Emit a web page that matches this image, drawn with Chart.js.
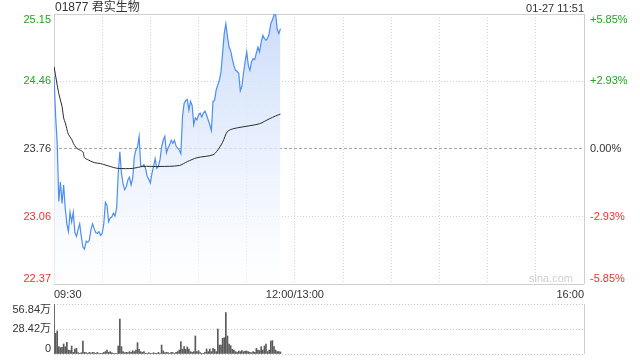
<!DOCTYPE html>
<html>
<head>
<meta charset="utf-8">
<script src="https://cdn.jsdelivr.net/npm/chart.js@4"></script>
<style>
  html, body { margin: 0; padding: 0; background: #fff; }
  #wrap { position: relative; width: 640px; height: 360px; overflow: hidden;
          font-family: Arial, "Liberation Sans", "Noto Sans CJK SC", sans-serif; color: #333; }
  #title { position: absolute; left: 55px; top: 0; font-size: 12px; line-height: 15px; }
  #stamp { position: absolute; right: 56px; top: 1px; font-size: 11px; line-height: 14px; }
  #priceChart { position: absolute; left: 0; top: 0; }
  #volChart { position: absolute; left: 0; top: 300px; }
</style>
</head>
<body>
<div id="wrap">
  <canvas id="priceChart" width="640" height="300"></canvas>
  <canvas id="volChart" width="640" height="60"></canvas>
  <div id="title">01877 君实生物</div>
  <div id="stamp">01-27 11:51</div>
</div>
<script>
const FONT = 'Arial, "Liberation Sans", "Noto Sans CJK SC", sans-serif';

// price per minute from 09:30 (index = minutes after open)
const prices = [
  24.51, 24.10, 23.82, 23.22, 23.42, 23.20, 23.39, 23.15, 22.99, 22.91,
  23.11, 23.01, 23.11, 22.90, 22.86, 22.93, 22.99, 22.86, 22.75, 22.73,
  22.81, 22.80, 22.82, 22.93, 22.99, 22.94, 22.90, 22.89, 22.91, 22.87,
  22.89, 22.99, 23.21, 23.18, 23.01, 23.05, 23.06, 23.10, 23.07, 23.15,
  23.51, 23.73, 23.51, 23.40, 23.34, 23.37, 23.44, 23.47, 23.39, 23.46,
  23.68, 23.75, 23.78, 23.89, 23.59, 23.58, 23.60, 23.56, 23.48, 23.45,
  23.41, 23.51, 23.58, 23.66, 23.56, 23.58, 23.65, 23.78, 23.85, 23.89,
  23.72, 23.77, 23.80, 23.85, 23.82, 23.85, 23.79, 23.77, 23.75, 23.71,
  24.09, 24.23, 24.26, 24.27, 24.16, 24.25, 24.21, 24.01, 24.08, 24.06,
  24.11, 24.13, 24.09, 24.13, 24.15, 24.11, 24.06, 24.01, 23.95, 24.25,
  24.26, 24.37, 24.42, 24.47, 24.56, 24.75, 24.95, 25.05, 24.92, 24.81,
  24.77, 24.69, 24.62, 24.57, 24.56, 24.54, 24.36, 24.41, 24.54, 24.66,
  24.76, 24.62, 24.57, 24.66, 24.69, 24.68, 24.75, 24.81, 24.76, 24.86,
  24.93, 24.90, 24.88, 24.90, 24.95, 25.05, 25.09, 25.14, 25.15, 24.99,
  24.95, 25.00
];

// average price line, read at these minutes
const avgMinutes = [0, 3, 5, 6, 7, 9, 11, 12, 14, 16, 18, 19, 21, 25, 29, 31, 35, 37, 40, 49,
  55, 66, 78, 83, 89, 99, 102, 105, 108, 112, 122, 128, 134, 138, 141];
const avgValues = [24.61, 24.33, 24.20, 24.08, 24.03, 23.91, 23.86, 23.82, 23.77, 23.75,
  23.73, 23.67, 23.65, 23.62, 23.61, 23.60, 23.58, 23.57, 23.56, 23.56,
  23.58, 23.58, 23.59, 23.63, 23.67, 23.70, 23.75, 23.83, 23.94, 23.97,
  24.00, 24.02, 24.07, 24.10, 24.12];

// volume per minute, 万
const volumes = [
  56.84, 23.5, 26.2, 8.3, 7.2, 7.6, 11.4, 8.3, 13.3, 4.5,
  3.8, 9.1, 1.9, 5.7, 6.4, 1.5, 0.8, 1.5, 14.8, 1.9,
  1.5, 0.8, 1.9, 1.1, 1.9, 1.5, 0.8, 1.9, 0.8, 0.4,
  0.8, 1.9, 2.7, 4.5, 1.9, 2.7, 1.5, 0.8, 0.4, 0.8,
  9.1, 39.8, 8.3, 2.7, 1.5, 1.9, 1.5, 2.7, 1.9, 3.8,
  2.7, 4.5, 12.9, 5.3, 2.7, 1.9, 2.7, 0.8, 0.8, 1.5,
  0.4, 0.8, 1.5, 0.8, 0.4, 1.9, 0.8, 10.2, 3.4, 1.5,
  1.9, 1.5, 0.8, 1.9, 1.5, 0.8, 1.9, 2.7, 4.5, 14.0,
  5.3, 8.3, 5.3, 8.0, 5.7, 2.7, 1.9, 2.7, 20.5, 2.7,
  3.8, 1.5, 0.8, 0.8, 1.9, 5.7, 2.7, 5.7, 2.7, 6.4,
  5.3, 2.7, 28.4, 10.2, 10.2, 17.8, 18.6, 47.0, 20.5, 11.4,
  9.5, 5.3, 4.5, 2.7, 1.9, 3.4, 2.7, 3.8, 2.7, 3.4,
  3.4, 2.7, 1.9, 1.5, 2.7, 1.9, 6.4, 4.5, 3.8, 8.3,
  4.5, 9.1, 11.4, 2.7, 4.5, 14.8, 15.2, 8.3, 4.5, 2.7,
  2.7, 2.3
];

// axes
const prevClose = 23.76;
const priceTicks = [25.15, 24.46, 23.76, 23.06, 22.37];
const pctTicks = ['+5.85%', '+2.93%', '0.00%', '-2.93%', '-5.85%'];
const volTicks = [56.84, 28.42, 0];
const volTickLabels = ['56.84万', '28.42万', '0'];
const gridMinutes = [0, 30, 60, 90, 120, 150, 180, 210, 240, 270, 300, 330];
const timeTickMinutes = [0, 150, 330];
const timeTickLabels = ['09:30', '12:00/13:00', '16:00'];

const GREEN = '#1fa51f', RED = '#f23030', DARK = '#333';
function tickColor(v) {
  if (v > prevClose + 0.001) return GREEN;
  if (v < prevClose - 0.001) return RED;
  return DARK;
}

// thin frame round the plot
const frame = {
  id: 'frame',
  beforeDatasetsDraw(chart, args, opts) {
    const { ctx, chartArea: a } = chart;
    ctx.save();
    ctx.strokeStyle = '#cfcfcf';
    ctx.lineWidth = 1;
    ctx.beginPath();
    (opts.sides || 'tlrb').split('').forEach(s => {
      if (s === 't') { ctx.moveTo(a.left, a.top + 0.5); ctx.lineTo(a.right, a.top + 0.5); }
      if (s === 'b') { ctx.moveTo(a.left, a.bottom + 0.5); ctx.lineTo(a.right, a.bottom + 0.5); }
      if (s === 'l') { ctx.moveTo(a.left + 0.5, a.top); ctx.lineTo(a.left + 0.5, a.bottom); }
      if (s === 'r') { ctx.moveTo(a.right + 0.5, a.top); ctx.lineTo(a.right + 0.5, a.bottom); }
    });
    ctx.stroke();
    ctx.restore();
  }
};

// y labels kept inside the plot height at the ends
const sideLabels = {
  id: 'sideLabels',
  afterDraw(chart, args, opts) {
    const { ctx, chartArea: a } = chart;
    const y = chart.scales.y;
    ctx.save();
    ctx.font = '11px ' + FONT;
    opts.items.forEach(it => {
      const py = y.getPixelForValue(it.value);
      ctx.textBaseline = py <= a.top + 1 ? 'top' : (py >= a.bottom - 1 ? 'bottom' : 'middle');
      ctx.fillStyle = it.color;
      if (it.side === 'left') {
        ctx.textAlign = 'right';
        ctx.fillText(it.text, a.left - 3, py);
      } else {
        ctx.textAlign = 'left';
        ctx.fillText(it.text, a.right + 6, py);
      }
    });
    if (opts.mark) {
      ctx.font = '11px ' + FONT;
      ctx.fillStyle = '#d0d0d0';
      ctx.textAlign = 'right';
      ctx.textBaseline = 'bottom';
      ctx.fillText(opts.mark, a.right - 11, a.bottom);
    }
    ctx.restore();
  }
};

const priceLabelItems = [];
priceTicks.forEach((v, i) => {
  priceLabelItems.push({ side: 'left', value: v, text: v.toFixed(2), color: tickColor(v) });
  priceLabelItems.push({ side: 'right', value: v, text: pctTicks[i], color: tickColor(v) });
});

new Chart(document.getElementById('priceChart'), {
  type: 'line',
  data: {
    datasets: [
      {
        label: '均价',
        data: avgMinutes.map((m, i) => ({ x: m, y: avgValues[i] })),
        borderColor: '#2b2b2b',
        borderWidth: 1,
        pointRadius: 0,
        tension: 0.3,
        fill: false
      },
      {
        label: '价格',
        data: prices.map((p, i) => ({ x: i, y: p })),
        borderColor: '#4d8ef0',
        borderWidth: 1.2,
        pointRadius: 0,
        tension: 0,
        fill: 'start',
        backgroundColor: function(context) {
          const { ctx, chartArea } = context.chart;
          if (!chartArea) return 'rgba(210,225,250,0.6)';
          const g = ctx.createLinearGradient(0, chartArea.top, 0, chartArea.bottom);
          g.addColorStop(0, 'rgba(200,218,250,0.95)');
          g.addColorStop(1, 'rgba(255,255,255,0.6)');
          return g;
        }
      }
    ]
  },
  options: {
    responsive: false,
    animation: false,
    devicePixelRatio: 1,
    layout: { padding: { top: 14, left: 0, right: 0, bottom: 0 } },
    plugins: {
      legend: { display: false },
      tooltip: { enabled: false },
      frame: { sides: 'tlrb' },
      sideLabels: { items: priceLabelItems, mark: 'sina.com' }
    },
    scales: {
      x: {
        type: 'linear',
        min: 0,
        max: 330,
        afterBuildTicks: s => { s.ticks = gridMinutes.map(v => ({ value: v })); },
        afterFit: s => { s.height = 16; },
        grid: { color: '#d2d2d2', drawTicks: false },
        border: { display: false, dash: [1, 2] },
        ticks: {
          autoSkip: false,
          maxRotation: 0,
          align: 'inner',
          padding: 4,
          color: DARK,
          font: { size: 11, family: FONT },
          callback: v => {
            const k = timeTickMinutes.indexOf(v);
            return k >= 0 ? timeTickLabels[k] : '';
          }
        }
      },
      y: {
        position: 'left',
        min: 22.37,
        max: 25.15,
        afterBuildTicks: s => { s.ticks = priceTicks.map(v => ({ value: v })); },
        afterFit: s => { s.width = 54; },
        ticks: { display: false },
        grid: {
          drawTicks: false,
          color: c => (c.tick && Math.abs(c.tick.value - prevClose) < 0.001) ? '#a8a8a8' : '#d2d2d2'
        },
        border: {
          display: false,
          dash: c => (c.tick && Math.abs(c.tick.value - prevClose) < 0.001) ? [3, 2] : [1, 2]
        }
      },
      y1: {
        position: 'right',
        min: 22.37,
        max: 25.15,
        afterFit: s => { s.width = 56; },
        ticks: { display: false },
        grid: { display: false },
        border: { display: false }
      }
    }
  },
  plugins: [frame, sideLabels]
});

new Chart(document.getElementById('volChart'), {
  type: 'bar',
  data: {
    datasets: [{
      label: '成交量',
      data: volumes.map((v, i) => ({ x: i, y: v })),
      backgroundColor: '#5a5a5a',
      barThickness: 1
    }]
  },
  options: {
    responsive: false,
    animation: false,
    devicePixelRatio: 1,
    layout: { padding: { top: 4, left: 0, right: 56, bottom: 6 } },
    plugins: {
      legend: { display: false },
      tooltip: { enabled: false },
      frame: { sides: 'lr' },
      sideLabels: {
        items: volTicks.map((v, i) => ({ side: 'left', value: v, text: volTickLabels[i], color: DARK }))
      }
    },
    scales: {
      x: { type: 'linear', min: 0, max: 330, offset: false, display: false },
      y: {
        position: 'left',
        min: 0,
        max: 56.84,
        afterBuildTicks: s => { s.ticks = volTicks.map(v => ({ value: v })); },
        afterFit: s => { s.width = 54; },
        ticks: { display: false },
        grid: { drawTicks: false, color: '#c8c8c8' },
        border: { display: false, dash: [1, 2] }
      }
    }
  },
  plugins: [frame, sideLabels]
});
</script>
</body>
</html>
